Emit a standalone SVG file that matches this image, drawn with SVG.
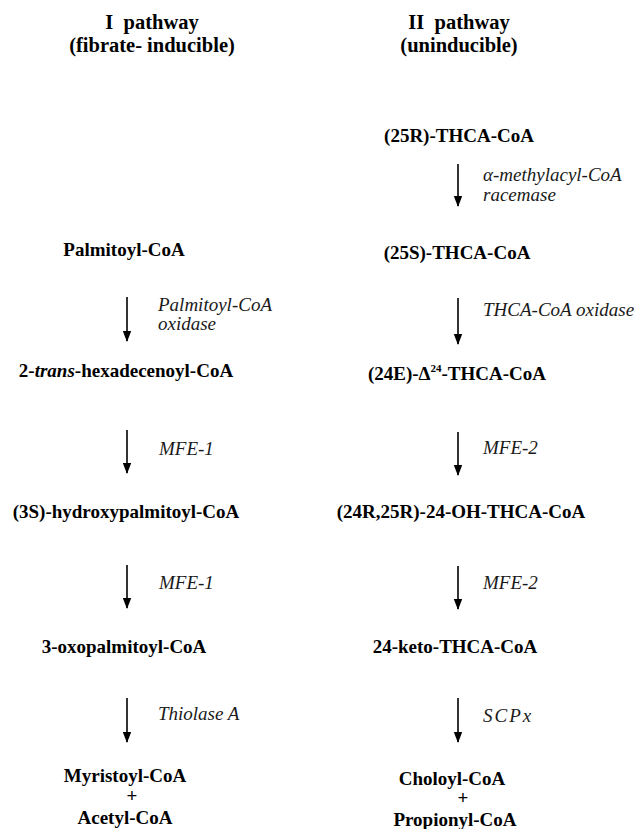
<svg xmlns="http://www.w3.org/2000/svg" width="640" height="829" viewBox="0 0 640 829">
<style>
text{font-family:"Liberation Serif","Times New Roman","DejaVu Serif",serif;fill:#000}
.h{font-size:20.5px;font-weight:bold;text-anchor:middle}
.n{font-size:19px;font-weight:bold;text-anchor:middle}
.e{font-family:"Liberation Serif","Times New Roman","DejaVu Serif",serif;font-size:19px;font-style:italic;fill:#1a1a1a}
.c line{stroke:#000;stroke-width:1.6;marker-end:url(#ah)}
</style>
<defs>
<marker id="ah" markerWidth="11" markerHeight="10" refX="10" refY="5" orient="auto" markerUnits="userSpaceOnUse">
<path d="M0,0.8 L11,5 L0,9.2 z" fill="#000"/>
</marker>
</defs>
<g id="header-I">
<text class="h" x="152" y="29" xml:space="preserve">I  pathway</text>
<text class="h" x="152" y="52">(fibrate- inducible)</text>
</g>
<g id="header-II">
<text class="h" x="459" y="29" xml:space="preserve">II  pathway</text>
<text class="h" x="459" y="52">(uninducible)</text>
</g>
<g id="palmitoyl"><text class="n" x="124" y="256">Palmitoyl-CoA</text></g>
<g id="hexadecenoyl"><text class="n" x="126" y="377">2-<tspan font-style="italic">trans</tspan>-hexadecenoyl-CoA</text></g>
<g id="hydroxypalmitoyl"><text class="n" x="126" y="518">(3S)-hydroxypalmitoyl-CoA</text></g>
<g id="oxopalmitoyl"><text class="n" x="124" y="653">3-oxopalmitoyl-CoA</text></g>
<g id="myristoyl">
<text class="n" x="125" y="782">Myristoyl-CoA</text>
<text class="n" x="132" y="802">+</text>
<text class="n" x="125" y="824">Acetyl-CoA</text>
</g>
<g id="thca25R"><text class="n" x="459" y="142">(25R)-THCA-CoA</text></g>
<g id="thca25S"><text class="n" x="457" y="259">(25S)-THCA-CoA</text></g>
<g id="delta24"><text class="n" x="457" y="380">(24E)-Δ<tspan font-size="11" dy="-8">24</tspan><tspan dy="8">-THCA-CoA</tspan></text></g>
<g id="oh-thca"><text class="n" x="461" y="518">(24R,25R)-24-OH-THCA-CoA</text></g>
<g id="keto-thca"><text class="n" x="455" y="653">24-keto-THCA-CoA</text></g>
<g id="choloyl">
<text class="n" x="452" y="785">Choloyl-CoA</text>
<text class="n" x="463" y="804">+</text>
<text class="n" x="455" y="826">Propionyl-CoA</text>
</g>
<g id="connectors" class="c">
<line x1="127" y1="297" x2="127" y2="341"/>
<line x1="127" y1="430" x2="127" y2="473"/>
<line x1="127" y1="565" x2="127" y2="608"/>
<line x1="127" y1="698" x2="127" y2="742"/>
<line x1="458" y1="164" x2="458" y2="206"/>
<line x1="458" y1="298" x2="458" y2="344"/>
<line x1="458" y1="432" x2="458" y2="475"/>
<line x1="458" y1="566" x2="458" y2="609"/>
<line x1="458" y1="698" x2="458" y2="742"/>
</g>
<g id="enzyme-labels">
<text class="e" x="158" y="311">Palmitoyl-CoA</text>
<text class="e" x="158" y="330">oxidase</text>
<text class="e" x="159" y="455">MFE-1</text>
<text class="e" x="159" y="589">MFE-1</text>
<text class="e" x="158" y="720">Thiolase A</text>
<text class="e" x="483" y="181">α-methylacyl-CoA</text>
<text class="e" x="483" y="201">racemase</text>
<text class="e" x="483" y="316">THCA-CoA oxidase</text>
<text class="e" x="483" y="454">MFE-2</text>
<text class="e" x="483" y="589">MFE-2</text>
<text class="e" x="483" y="722" letter-spacing="2">SCPx</text>
</g>
</svg>
